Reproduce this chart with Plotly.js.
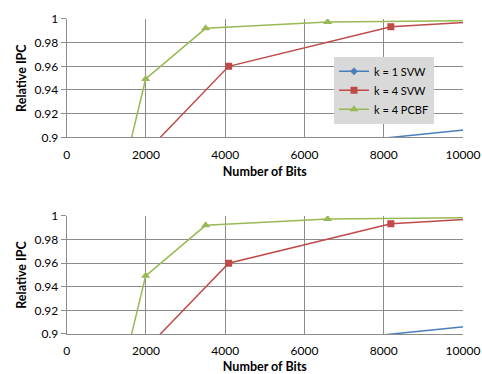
<!DOCTYPE html>
<html><head><meta charset="utf-8">
<script src="https://cdn.plot.ly/plotly-3.0.1.min.js"></script>
<style>html,body{margin:0;padding:0;background:#fff}#chart{width:482px;height:374px}</style>
</head><body><div id="chart"></div>
<script>
var seriesNames = ["k = 1 SVW", "k = 4 SVW", "k = 4 PCBF"];
var svw1X = [6000, 12000];
var svw1Y = [0.8925, 0.9128];
var svw4X = [2048, 4086, 8179, 11000];
var svw4Y = [0.889, 0.96, 0.9935, 0.999];
var pcbfX = [1000, 1992, 3506, 6583, 13000];
var pcbfY = [0.811, 0.9493, 0.9921, 0.9975, 0.9995];
var xTicks = [0, 2000, 4000, 6000, 8000, 10000];
var yTicks = [0.9, 0.92, 0.94, 0.96, 0.98, 1];
var yTickText = ["0.9", "0.92", "0.94", "0.96", "0.98", "1"];

var colors = ["#4a7ebb", "#be4b48", "#98b954"];
var symbols = ["diamond", "square", "triangle-up"];
var sizes = [6, 7, 8];
var xs = [svw1X, svw4X, pcbfX], ys = [svw1Y, svw4Y, pcbfY];
var traces = [];
[["x","y"],["x2","y2"]].forEach(function(ax, k){
  for (var i=0;i<3;i++){
    traces.push({x: xs[i], y: ys[i], xaxis: ax[0], yaxis: ax[1], type:"scatter", mode:"lines+markers",
      name: seriesNames[i], showlegend: k===0,
      line:{color:colors[i], width:1.5}, marker:{color:colors[i], symbol:symbols[i], size:sizes[i]}});
  }
});
var fam = "Lato, 'Open Sans', sans-serif";
var fnt = {family:fam, size:12, color:"#000"};
function xa(anchor){ return {domain:[0.1384,0.9606], range:[0,10000], tickvals:xTicks, ticktext:xTicks.map(String),
  showgrid:true, gridcolor:"#8c8c8c", gridwidth:1, zeroline:false, showline:true, linecolor:"#8c8c8c",
  ticks:"", tickfont:fnt, ticklabelstandoff:6, anchor:anchor, fixedrange:true,
  title:{text:"<b>Number of Bits</b>", font:{family:fam,size:12.5,color:"#000"}, standoff:6}}; }
function ya(anchor, dom){ return {domain:dom, range:[0.9,1], tickvals:yTicks, ticktext:yTickText,
  showgrid:true, gridcolor:"#8c8c8c", gridwidth:1, zeroline:false, showline:true, linecolor:"#8c8c8c",
  ticks:"outside", ticklen:5, tickcolor:"#8c8c8c", tickfont:fnt, anchor:anchor, fixedrange:true,
  title:{text:"<b>Relative IPC</b>", font:{family:fam,size:12.5,color:"#000"}, standoff:5}}; }
var layout = {
  width:482, height:374, margin:{l:0,r:0,t:0,b:0}, paper_bgcolor:"#fff", plot_bgcolor:"#fff",
  xaxis: xa("y"), yaxis: ya("x", [0.6329,0.9492]),
  xaxis2: xa("y2"), yaxis2: ya("x2", [0.1070,0.4225]),
  legend:{x:0.693, y:0.848, xanchor:"left", yanchor:"top", bgcolor:"#d9d9d9", font:{family:fam,size:11,color:"#000"},
    tracegroupgap:0, itemwidth:30},
  showlegend:true
};
Plotly.newPlot("chart", traces, layout, {displayModeBar:false, staticPlot:true});
</script></body></html>
